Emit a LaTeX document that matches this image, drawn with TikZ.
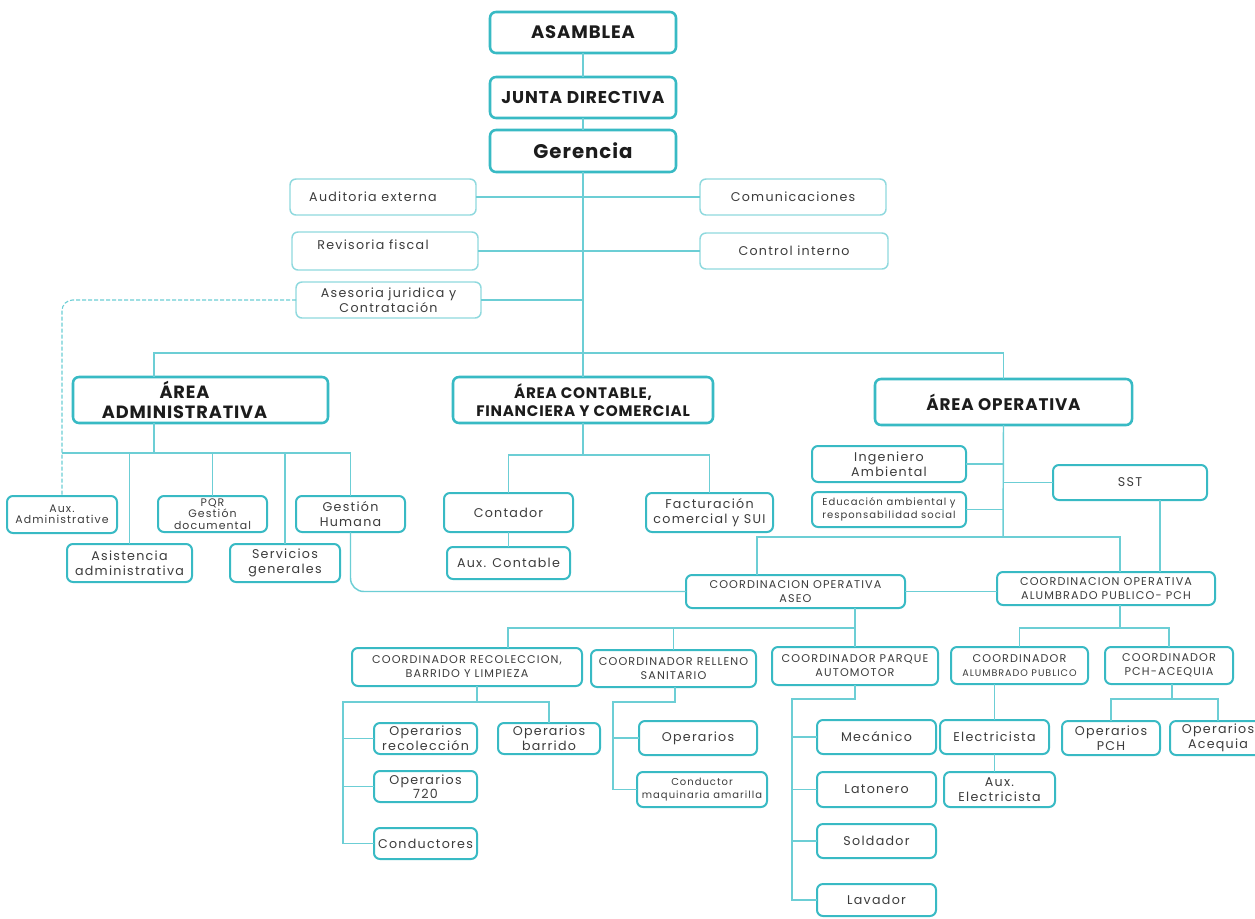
\documentclass[tikz,border=0pt]{standalone}
\usepackage{fontspec}
\setmainfont{Poppins}
\newfontfamily\fN{Poppins}[LetterSpace=10]
\newfontfamily\fH{Poppins}[LetterSpace=5]
\definecolor{edge}{HTML}{38BAC4}
\definecolor{edgel}{HTML}{8FD9DE}
\definecolor{wire}{HTML}{6CCED5}
\definecolor{ink}{HTML}{1C1C1C}
\definecolor{txt}{HTML}{3C3C3C}
\newcommand\B[7][]{%
  \node[bx,#1,minimum width={(#4-#2)*0.75pt},minimum height={(#5-#3)*0.75pt}] (#6) at ({(#2+#4)/2},{(#3+#5)/2}) {#7};}
\tikzset{
  bx/.style={draw=edge, line width=1.5pt, rounded corners=4.5pt, fill=white, inner sep=0pt, outer sep=0pt, align=center, text=txt, font=\fN\fontsize{9.5}{11}\selectfont},
  bxl/.style={draw=edgel, line width=1.1pt},
  h1/.style={text=ink, line width=1.9pt, font=\fH\bfseries\fontsize{13.5}{15}\selectfont},
  hj/.style={text=ink, line width=1.9pt, font=\fH\bfseries\fontsize{12.8}{15}\selectfont},
  hg/.style={text=ink, line width=1.9pt, font=\fH\bfseries\fontsize{14.8}{16}\selectfont},
  h2/.style={text=ink, line width=1.9pt, font=\fH\bfseries\fontsize{13.3}{15}\selectfont},
  ho/.style={text=ink, line width=1.9pt, font=\fH\bfseries\fontsize{12.6}{15}\selectfont},
  h3/.style={text=ink, line width=1.9pt, font=\fH\bfseries\fontsize{11.4}{14}\selectfont},
  tc/.style={font=\fN\fontsize{8.4}{10.5}\selectfont},
  ts/.style={font=\fN\fontsize{8.2}{8.6}\selectfont},
  tt/.style={font=\fN\fontsize{7.5}{9.5}\selectfont},
  wr/.style={draw=wire, line width=1.1pt},
}
\begin{document}
\begin{tikzpicture}[x=0.75pt,y=-0.75pt]
\useasboundingbox (0,0) rectangle (1255,918);
\clip (0,0) rectangle (1255,918);
\fill[white] (0,0) rectangle (1255,918);
% ---------- nodes ----------
\B[h1]{490}{12}{676}{53}{asam}{ASAMBLEA}
\B[hj]{490}{77}{676}{118}{junta}{JUNTA DIRECTIVA}
\B[hg]{490}{130}{676}{172}{ger}{Gerencia}
\B[bxl]{290}{179}{476}{215}{audit}{\hspace*{-15pt}Auditoria externa}
\B[bxl]{700}{179}{886}{215}{comu}{Comunicaciones}
\B[bxl]{292}{232}{478}{270}{revi}{\hspace*{-18pt}\raisebox{9pt}{Revisoria fiscal}}
\B[bxl]{700}{233}{888}{269}{ctrl}{Control interno}
\B[bxl]{296}{282}{481}{318}{ases}{Asesoria juridica y\\Contratación}
\B[h2]{73}{377}{328}{423}{admin}{\hspace*{-24pt}ÁREA\\\hspace*{-24pt}ADMINISTRATIVA}
\B[h3]{453}{377}{713}{423}{conta}{ÁREA CONTABLE,\\FINANCIERA Y COMERCIAL}
\B[ho]{875}{379}{1132}{425}{oper}{ÁREA OPERATIVA}
\B[ts]{7}{496}{117}{533}{auxadm}{Aux.\\Administrative}
\B{67}{544}{192}{582}{asist}{Asistencia\\administrativa}
\B[ts]{158}{496}{267}{532}{pqr}{PQR\\Gestión\\documental}
\B{230}{544}{340}{582}{serv}{Servicios\\generales}
\B{296}{496}{405}{532}{gh}{Gestión\\Humana}
\B{444}{493}{573}{532}{contador}{Contador}
\B{646}{493}{773}{532}{fact}{Facturación\\comercial y SUI}
\B{447}{547}{570}{579}{auxcont}{Aux. Contable}
\B{812}{446}{966}{482}{ing}{Ingeniero\\Ambiental}
\B[tt]{812}{492}{966}{527}{edu}{Educación ambiental y\\responsabilidad social}
\B{1053}{465}{1207}{500}{sst}{SST}
\B[tc]{686}{575}{905}{608}{caseo}{COORDINACION OPERATIVA\\ASEO}
\B[tc]{997}{572}{1215}{605}{calum}{COORDINACION OPERATIVA\\ALUMBRADO PUBLICO- PCH}
\B[tc]{352}{648}{582}{686}{recol}{COORDINADOR RECOLECCION,\\BARRIDO Y LIMPIEZA}
\B[tc]{591}{650}{756}{687}{relleno}{COORDINADOR RELLENO\\SANITARIO}
\B[tc]{772}{647}{938}{685}{parque}{COORDINADOR PARQUE\\AUTOMOTOR}
\B[tc]{951}{647}{1088}{684}{calp}{COORDINADOR\\{\fontsize{7.2}{9}\selectfont ALUMBRADO PUBLICO}}
\B[tc]{1105}{647}{1233}{684}{cpch}{COORDINADOR\\PCH-ACEQUIA}
\B{374}{723}{477}{754}{oprec}{Operarios\\recolección}
\B{374}{771}{477}{802}{op720}{Operarios\\720}
\B{374}{828}{477}{859}{cond}{Conductores}
\B{498}{723}{600}{754}{opbar}{Operarios\\barrido}
\B{639}{721}{757}{755}{operr}{Operarios}
\B[tt]{637}{772}{767}{807}{maq}{Conductor\\maquinaria amarilla}
\B{817}{720}{936}{754}{mec}{Mecánico}
\B{817}{772}{936}{807}{lat}{Latonero}
\B{817}{824}{936}{858}{sold}{Soldador}
\B{817}{884}{936}{916}{lav}{Lavador}
\B{940}{720}{1049}{754}{elec}{Electricista}
\B{944}{772}{1055}{807}{auxel}{Aux.\\Electricista}
\B{1062}{721}{1160}{755}{oppch}{Operarios\\PCH}
\B{1170}{721}{1266}{755}{opaceq}{Operarios\\Acequia}
% ---------- junction coordinates ----------
\coordinate (hl) at (154,353);
\coordinate (ja) at (154,453);
\coordinate (jc) at (583,455);
\coordinate (jo) at (1003,537);
\coordinate (co1) at (757,537);
\coordinate (co2) at (1120,537);
\coordinate (cs) at (1160,537);
\coordinate (ka) at (855,628);
\coordinate (kb) at (508,628);
\coordinate (r1) at (477,702);
\coordinate (r2) at (343,702);
\coordinate (s1) at (675,702);
\coordinate (s2) at (613,702);
\coordinate (p1) at (855,699);
\coordinate (p2) at (792,699);
\coordinate (q1) at (1120,628);
\coordinate (t1) at (1172,699);
% ---------- connectors ----------
\path[wr] (asam) -- (junta);
\path[wr] (junta) -- (ger);
\path[wr] (ger) -- (conta);
\path[wr] (audit.east) -- (comu.west);
\path[wr] (revi.east) -- (ctrl.west);
\path[wr] (ases.east) -- (ases.east -| ger.south);
\path[wr, line width=0.8pt, dash pattern=on 3pt off 1.5pt, rounded corners=8pt] (ases.west) -| (auxadm.north);
\path[wr] (hl |- admin.north) -- (hl) -- (oper.north |- hl) -- (oper.north);
% admin
\path[wr] (admin.south -| ja) -- (ja);
\path[wr] (auxadm.north |- ja) -- (gh.north |- ja) -- (gh.north);
\path[wr] (asist.north) -- (asist.north |- ja);
\path[wr] (pqr.north) -- (pqr.north |- ja);
\path[wr] (serv.north) -- (serv.north |- ja);
\path[wr, rounded corners=10pt] (gh.south) |- (caseo.west);
% contable
\path[wr] (conta.south) -- (jc);
\path[wr] (contador.north) |- (jc) -| (fact.north);
\path[wr] (contador.south) -- (auxcont.north);
% operativa
\path[wr] (oper.south) -- (jo);
\path[wr] (ing.east) -- (ing.east -| jo);
\path[wr] (edu.east) -- (edu.east -| jo);
\path[wr] (sst.west) -- (sst.west -| jo);
\path[wr] (co1 |- caseo.north) -- (co1) -- (co2) -- (co2 |- calum.north);
\path[wr] (cs |- sst.south) -- (cs |- calum.north);
\path[wr] (caseo.east) -- (caseo.east -| calum.west);
% aseo
\path[wr] (ka |- caseo.south) -- (ka |- parque.north);
\path[wr] (ka) -- (kb) -- (kb |- recol.north);
\path[wr] (relleno.north) -- (relleno.north |- ka);
% recoleccion
\path[wr] (r1 |- recol.south) -- (r1) -- (r2) |- (cond.west);
\path[wr] (r1) -| (opbar.north);
\path[wr] (r2 |- oprec.west) -- (oprec.west);
\path[wr] (r2 |- op720.west) -- (op720.west);
% relleno
\path[wr] (s1 |- relleno.south) -- (s1) -- (s2) |- (maq.west);
\path[wr] (s2 |- operr.west) -- (operr.west);
% parque
\path[wr] (parque.south -| p1) -- (p1) -- (p2) |- (lav.west);
\path[wr] (p2 |- mec.west) -- (mec.west);
\path[wr] (p2 |- lat.west) -- (lat.west);
\path[wr] (p2 |- sold.west) -- (sold.west);
% alumbrado
\path[wr] (q1 |- calum.south) -- (q1);
\path[wr] (calp.north) |- (q1) -| (cpch.north);
\path[wr] (elec.north |- calp.south) -- (elec.north);
\path[wr] (elec.south) -- (elec.south |- auxel.north);
\path[wr] (t1 |- cpch.south) -- (t1);
\path[wr] (oppch.north) |- (t1) -| (opaceq.north);
\end{tikzpicture}
\end{document}
